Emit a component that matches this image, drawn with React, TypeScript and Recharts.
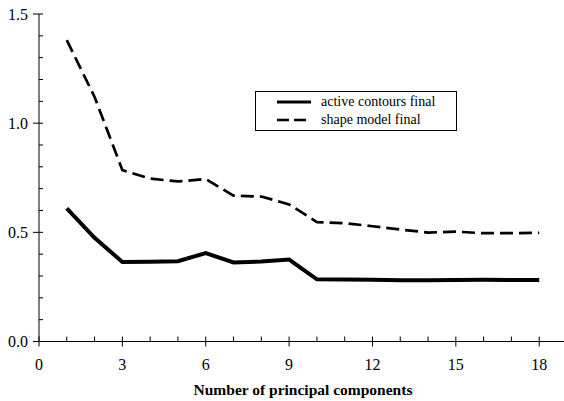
import { LineChart, Line, XAxis, YAxis, Legend } from "recharts";

const components = [1, 2, 3, 4, 5, 6, 7, 8, 9, 10, 11, 12, 13, 14, 15, 16, 17, 18];
const activeContours = [
  0.61, 0.475, 0.364, 0.365, 0.368, 0.405, 0.362, 0.366, 0.375, 0.285, 0.284, 0.283, 0.28, 0.281,
  0.282, 0.283, 0.282, 0.282,
];
const shapeModel = [
  1.38, 1.12, 0.785, 0.746, 0.733, 0.744, 0.668, 0.664, 0.628, 0.547, 0.542, 0.528, 0.513, 0.499,
  0.503, 0.496, 0.496, 0.498,
];
const xTicks = [0, 1, 2, 3, 4, 5, 6, 7, 8, 9, 10, 11, 12, 13, 14, 15, 16, 17, 18, 19];
const xLabels = [0, 3, 6, 9, 12, 15, 18];
const yTicks = [0, 0.1, 0.2, 0.3, 0.4, 0.5, 0.6, 0.7, 0.8, 0.9, 1.0, 1.1, 1.2, 1.3, 1.4, 1.5];
const yLabels = [0, 0.5, 1.0, 1.5];

const FONT = "Liberation Serif, DejaVu Serif, serif";

const data = components.map((n, i) => ({
  n,
  active: activeContours[i],
  shape: shapeModel[i],
}));

function isMajor(list: number[], v: number) {
  return list.some((m) => Math.abs(m - v) < 1e-6);
}

function BottomTick(props: any) {
  const { x, y, payload } = props;
  const major = isMajor(xLabels, payload.value);
  return (
    <g>
      <line x1={x} x2={x} y1={y - 5} y2={major ? y + 5 : y} stroke="#000" strokeWidth={1} />
      {major && (
        <text x={x} y={y + 28} textAnchor="middle" style={{ fontFamily: FONT }} fontSize={16} fill="#000">
          {payload.value}
        </text>
      )}
    </g>
  );
}

function TopTick(props: any) {
  const { x, y, payload } = props;
  const major = isMajor(xLabels, payload.value);
  return <line x1={x} x2={x} y1={major ? y - 4 : y} y2={y + 4} stroke="#000" strokeWidth={1} />;
}

function LeftTick(props: any) {
  const { x, y, payload } = props;
  const major = isMajor(yLabels, payload.value);
  return (
    <g>
      <line x1={major ? x - 6 : x} x2={x + 4} y1={y} y2={y} stroke="#000" strokeWidth={1} />
      {major && (
        <text x={x - 11} y={y + 5.5} textAnchor="end" style={{ fontFamily: FONT }} fontSize={16} fill="#000">
          {payload.value.toFixed(1)}
        </text>
      )}
    </g>
  );
}

function LegendBox() {
  const row = (dash: string | undefined, width: number, label: string) => (
    <div style={{ display: "flex", alignItems: "center", height: 18 }}>
      <svg width={34} height={6} style={{ marginLeft: 21, marginRight: 10 }}>
        <line x1={0} x2={34} y1={3} y2={3} stroke="#000" strokeWidth={width} strokeDasharray={dash} />
      </svg>
      <span>{label}</span>
    </div>
  );
  return (
    <div
      style={{
        width: 200,
        border: "1px solid #000",
        background: "#fff",
        fontFamily: FONT,
        fontSize: 14,
        color: "#000",
        padding: "1px 0",
        lineHeight: "18px",
      }}
    >
      {row(undefined, 3, "active contours final")}
      {row("12 5", 2.5, "shape model final")}
    </div>
  );
}

export default function App() {
  return (
    <div
      style={{
        position: "absolute",
        left: 0,
        top: 0,
        width: 564,
        height: 401,
        overflow: "hidden",
        background: "#fff",
      }}
    >
      <LineChart
        width={580}
        height={401}
        data={data}
        margin={{ top: 14, right: 13, bottom: 0, left: 0 }}
      >
        <XAxis
          dataKey="n"
          type="number"
          domain={[0, 19]}
          ticks={xTicks}
          interval={0}
          height={59.5}
          tickSize={0}
          tickMargin={0}
          tick={<BottomTick />}
          axisLine={{ stroke: "#000", strokeWidth: 1 }}
          tickLine={false}
          label={{
            content: (p: any) => {
              const vb = p.viewBox || {};
              return (
                <text
                  x={vb.x + vb.width / 2}
                  y={vb.y + 53.5}
                  textAnchor="middle"
                  style={{ fontFamily: FONT }}
                  fontWeight="bold"
                  fontSize={15.5}
                  fill="#000"
                >
                  Number of principal components
                </text>
              );
            },
          }}
        />
        <XAxis
          xAxisId="top"
          dataKey="n"
          type="number"
          orientation="top"
          domain={[0, 19]}
          ticks={xTicks}
          interval={0}
          height={0}
          tickSize={0}
          tickMargin={0}
          tick={<TopTick />}
          axisLine={{ stroke: "#000", strokeWidth: 1 }}
          tickLine={false}
        />
        <YAxis
          type="number"
          domain={[0, 1.5]}
          ticks={yTicks}
          interval={0}
          width={39}
          tickSize={0}
          tickMargin={0}
          tick={<LeftTick />}
          axisLine={{ stroke: "#000", strokeWidth: 1 }}
          tickLine={false}
        />
        <Legend
          layout="vertical"
          align="center"
          verticalAlign="middle"
          content={() => <LegendBox />}
          wrapperStyle={{ position: "absolute", left: 255, top: 91, width: 202 }}
        />
        <Line
          dataKey="active"
          name="active contours final"
          stroke="#000"
          strokeWidth={4}
          dot={false}
          isAnimationActive={false}
        />
        <Line
          dataKey="shape"
          name="shape model final"
          stroke="#000"
          strokeWidth={2.7}
          strokeDasharray="13 6"
          dot={false}
          isAnimationActive={false}
        />
      </LineChart>
    </div>
  );
}
